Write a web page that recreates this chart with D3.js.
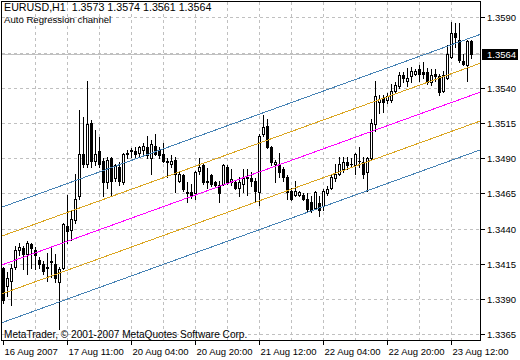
<!DOCTYPE html>
<html><head><meta charset="utf-8">
<script src="https://cdn.jsdelivr.net/npm/d3@7"></script>
<style>html,body{margin:0;padding:0;background:#fff;}svg{display:block;}</style>
</head><body><svg id="c" width="520" height="360"></svg>
<script>
const symbol = "EURUSD,H1";
const indicatorName = "Auto Regression channel";
const copyright = "MetaTrader, \u00A9 2001-2007 MetaQuotes Software Corp.";

const open = [1.3412,1.3399,1.3403,1.3413,1.3425,1.3426,1.3422,1.3429,1.3425,1.3418,
1.3415,1.3412,1.3416,1.3415,1.3402,1.3412,1.3442,1.3439,1.3446,1.3463,
1.3493,1.3486,1.3515,1.3488,1.3495,1.3488,1.3473,1.3490,1.3476,1.3484,
1.3473,1.3493,1.3495,1.3495,1.3494,1.3496,1.3498,1.3490,1.3499,1.3496,
1.3493,1.3488,1.3486,1.3489,1.3474,1.3478,1.3466,1.3466,1.3465,1.3481,
1.3485,1.3474,1.3478,1.3473,1.3471,1.3472,1.3484,1.3473,1.3473,1.3469,
1.3472,1.3476,1.3476,1.3474,1.3466,1.3507,1.3513,1.3498,1.3486,1.3486,
1.3482,1.3477,1.3467,1.3464,1.3464,1.3464,1.3461,1.3459,1.3455,1.3458,
1.3456,1.3465,1.3469,1.3476,1.3479,1.3482,1.3487,1.3486,1.3485,1.3488,
1.3487,1.3480,1.3490,1.3514,1.3530,1.3533,1.3531,1.3531,1.3538,1.3541,
1.3549,1.3545,1.3548,1.3550,1.3553,1.3551,1.3551,1.3544,1.3550,1.3548,
1.3538,1.3547,1.3562,1.3579,1.3574,1.3559,1.3556,1.3573];
const high = [1.3413,1.3409,1.3415,1.3428,1.3430,1.3428,1.3431,1.3430,1.3427,1.3420,
1.3417,1.3423,1.3428,1.3422,1.3413,1.3444,1.3464,1.3453,1.3479,1.3524,
1.3519,1.3545,1.3517,1.3510,1.3505,1.3490,1.3491,1.3491,1.3486,1.3487,
1.3494,1.3496,1.3497,1.3498,1.3499,1.3501,1.3506,1.3503,1.3507,1.3498,
1.3501,1.3490,1.3492,1.3491,1.3480,1.3479,1.3473,1.3472,1.3481,1.3490,
1.3486,1.3483,1.3479,1.3474,1.3474,1.3486,1.3485,1.3482,1.3474,1.3477,
1.3482,1.3482,1.3480,1.3476,1.3507,1.3521,1.3518,1.3499,1.3489,1.3494,
1.3484,1.3478,1.3469,1.3474,1.3467,1.3465,1.3465,1.3463,1.3467,1.3463,
1.3468,1.3470,1.3478,1.3486,1.3491,1.3491,1.3491,1.3490,1.3494,1.3498,
1.3491,1.3491,1.3518,1.3545,1.3535,1.3535,1.3536,1.3543,1.3544,1.3551,
1.3551,1.3554,1.3555,1.3553,1.3556,1.3558,1.3554,1.3553,1.3553,1.3550,
1.3552,1.3570,1.3587,1.3586,1.3586,1.3564,1.3574,1.3574];
const low = [1.3387,1.3392,1.3386,1.3411,1.3421,1.3411,1.3408,1.3412,1.3411,1.3412,
1.3408,1.3403,1.3406,1.3402,1.3369,1.3411,1.3430,1.3432,1.3444,1.3461,
1.3484,1.3484,1.3484,1.3485,1.3484,1.3463,1.3469,1.3464,1.3474,1.3471,
1.3472,1.3490,1.3491,1.3490,1.3491,1.3492,1.3490,1.3479,1.3492,1.3490,
1.3487,1.3477,1.3484,1.3466,1.3473,1.3467,1.3459,1.3462,1.3461,1.3479,
1.3472,1.3469,1.3470,1.3470,1.3459,1.3471,1.3472,1.3471,1.3468,1.3463,
1.3466,1.3464,1.3470,1.3459,1.3457,1.3506,1.3497,1.3485,1.3473,1.3477,
1.3474,1.3461,1.3460,1.3463,1.3463,1.3460,1.3452,1.3452,1.3454,1.3449,
1.3453,1.3464,1.3468,1.3474,1.3478,1.3480,1.3482,1.3484,1.3479,1.3484,
1.3476,1.3467,1.3489,1.3509,1.3522,1.3523,1.3529,1.3530,1.3536,1.3540,
1.3544,1.3541,1.3544,1.3549,1.3545,1.3547,1.3543,1.3542,1.3545,1.3535,
1.3537,1.3546,1.3561,1.3569,1.3558,1.3556,1.3545,1.3561];
const close = [1.3389,1.3405,1.3412,1.3425,1.3427,1.3422,1.3430,1.3426,1.3421,1.3415,
1.3410,1.3413,1.3417,1.3405,1.3411,1.3443,1.3438,1.3447,1.3461,1.3493,
1.3486,1.3514,1.3488,1.3493,1.3486,1.3473,1.3489,1.3474,1.3485,1.3474,
1.3493,1.3494,1.3496,1.3493,1.3498,1.3499,1.3492,1.3500,1.3493,1.3492,
1.3488,1.3487,1.3488,1.3479,1.3479,1.3468,1.3465,1.3463,1.3480,1.3484,
1.3473,1.3473,1.3472,1.3471,1.3465,1.3485,1.3473,1.3475,1.3469,1.3473,
1.3476,1.3477,1.3474,1.3467,1.3506,1.3512,1.3498,1.3487,1.3487,1.3480,
1.3477,1.3466,1.3461,1.3467,1.3466,1.3461,1.3454,1.3453,1.3466,1.3453,
1.3467,1.3468,1.3477,1.3479,1.3486,1.3487,1.3485,1.3486,1.3493,1.3488,
1.3479,1.3490,1.3515,1.3534,1.3532,1.3530,1.3534,1.3538,1.3542,1.3549,
1.3547,1.3547,1.3552,1.3552,1.3550,1.3550,1.3544,1.3549,1.3548,1.3537,
1.3549,1.3564,1.3579,1.3576,1.3560,1.3557,1.3573,1.3564];

const xTickBars = [0,16,32,48,64,80,96,112];
const xTickLabels = ["16 Aug 2007","17 Aug 11:00","20 Aug 04:00","20 Aug 20:00","21 Aug 12:00","22 Aug 04:00","22 Aug 20:00","23 Aug 12:00"];
const xGridBars = [8,16,24,32,40,48,56,64,72,80,88,96,104,112];
const yGridValues = [1.3365,1.3390,1.3415,1.3440,1.3465,1.3490,1.3515,1.3540,1.3565,1.3590];
const yLabelValues = [1.3365,1.3390,1.3415,1.3440,1.3465,1.3490,1.3515,1.3540,1.3590];
const channelCenter = [1.3415, 1.3535];   // regression value at first and last bar
const channelDevs = [0.0041, 0.00205, 0, -0.00205, -0.0041];
const channelColors = ["#4682b4","#daa520","#ff00ff","#daa520","#4682b4"];

const n = close.length;
const L = 1, T = 1, R = 480, B = 340;
const FONT = "'Liberation Sans', Arial, sans-serif";

const svg = d3.select("#c");
svg.append("rect").attr("width",520).attr("height",360).attr("fill","#fff");

const x = d3.scaleLinear().domain([0, n-1]).range([3, 3 + 4*(n-1)]);
const y = d3.scaleLinear().domain([1.3365, 1.3590]).range([334.3, 17.3]).interpolate(d3.interpolateRound);

svg.append("defs").append("clipPath").attr("id","plot")
  .append("rect").attr("x",L+1).attr("y",T+1).attr("width",R-L-1).attr("height",B-T-1);

// grid
const grid = svg.append("g").attr("stroke","#c0c0c0").attr("stroke-dasharray","3,3").attr("shape-rendering","crispEdges");
grid.selectAll("line.h").data(yGridValues).join("line").attr("class","h")
  .attr("x1",L+1).attr("x2",R).attr("y1",d=>y(d)+0.5).attr("y2",d=>y(d)+0.5);
grid.selectAll("line.v").data(xGridBars).join("line").attr("class","v")
  .attr("x1",d=>x(d)+0.5).attr("x2",d=>x(d)+0.5).attr("y1",T+1).attr("y2",B);

// bid line
const last = close[n-1];
svg.append("line").attr("x1",L+1).attr("x2",R).attr("y1",y(last)+0.5).attr("y2",y(last)+0.5)
  .attr("stroke","#c0c0c0").attr("shape-rendering","crispEdges");

// candles
const bars = d3.range(n).map(i=>({i,o:open[i],h:high[i],l:low[i],c:close[i]}));
const cg = svg.append("g").attr("clip-path","url(#plot)").attr("shape-rendering","crispEdges");
cg.selectAll("line.wick").data(bars).join("line").attr("class","wick")
  .attr("x1",d=>x(d.i)+0.5).attr("x2",d=>x(d.i)+0.5)
  .attr("y1",d=>y(d.h)).attr("y2",d=>y(d.l)+1).attr("stroke","#000");
const bodies = bars.filter(d=>y(Math.min(d.o,d.c)) - y(Math.max(d.o,d.c)) >= 1);
const dojis = bars.filter(d=>y(Math.min(d.o,d.c)) - y(Math.max(d.o,d.c)) < 1);
cg.selectAll("rect.body").data(bodies).join("rect").attr("class","body")
  .attr("x",d=>x(d.i)-0.5).attr("width",2)
  .attr("y",d=>y(Math.max(d.o,d.c))+0.5)
  .attr("height",d=>y(Math.min(d.o,d.c)) - y(Math.max(d.o,d.c)))
  .attr("fill",d=>d.c>d.o?"#fff":"#000").attr("stroke","#000");
cg.selectAll("line.doji").data(dojis).join("line").attr("class","doji")
  .attr("x1",d=>x(d.i)-1).attr("x2",d=>x(d.i)+2)
  .attr("y1",d=>y(d.c)+0.5).attr("y2",d=>y(d.c)+0.5).attr("stroke","#000");

// regression channel
const i0 = x.invert(L), i1 = x.invert(R);
const yl = d3.scaleLinear().domain([1.3365, 1.3590]).range([334.3, 17.3]);
const chanVal = (i, dev) => channelCenter[0] + (channelCenter[1]-channelCenter[0]) * i/(n-1) + dev;
const line = d3.line().x(d=>x(d[0])+0.5).y(d=>yl(d[1])+0.5);
svg.append("g").attr("clip-path","url(#plot)").attr("shape-rendering","crispEdges")
  .selectAll("path").data(channelDevs).join("path")
  .attr("d",(dev)=>line([[i0,chanVal(i0,dev)],[i1,chanVal(i1,dev)]]))
  .attr("fill","none").attr("stroke",(d,k)=>channelColors[k]).attr("stroke-width",1);

// frame
svg.append("rect").attr("x",L+0.5).attr("y",T+0.5).attr("width",R-L).attr("height",B-T)
  .attr("fill","none").attr("stroke","#000").attr("shape-rendering","crispEdges");

// right axis
const ya = svg.append("g").attr("transform",`translate(${R+1},0)`)
  .call(d3.axisRight(y).tickValues(yLabelValues).tickSize(4).tickPadding(2).tickFormat(d3.format(".4f")));
ya.select(".domain").remove();
ya.attr("font-family",FONT).attr("font-size",9.5);
ya.selectAll("line").attr("shape-rendering","crispEdges");
ya.selectAll("text").attr("fill","#000");

// bottom axis
const xa = svg.append("g").attr("transform",`translate(0,${B+1})`)
  .call(d3.axisBottom(x).tickValues(xTickBars).tickSize(4).tickPadding(3).tickFormat((d,k)=>xTickLabels[k]));
xa.select(".domain").remove();
xa.attr("font-family",FONT).attr("font-size",9.5);
xa.selectAll("line").attr("shape-rendering","crispEdges");
xa.selectAll("text").attr("text-anchor","start").attr("x",1).attr("fill","#000");

// current price label
const yp = y(last);
svg.append("rect").attr("x",R+2).attr("y",yp-5).attr("width",36).attr("height",11).attr("fill","#000");
svg.append("text").attr("x",R+7).attr("y",yp+4).attr("fill","#fff")
  .attr("font-family",FONT).attr("font-size",9.5).text(d3.format(".4f")(last));

// header texts
svg.append("text").attr("x",4).attr("y",10.5).attr("font-family",FONT).attr("font-size",10.7)
  .style("white-space","pre")
  .text(`${symbol}  ${[open[n-1],high[n-1],low[n-1],close[n-1]].map(d3.format(".4f")).join(" ")}`);
svg.append("text").attr("x",4).attr("y",22.5).attr("font-family",FONT).attr("font-size",9.6)
  .text(indicatorName);
svg.append("text").attr("x",4).attr("y",338).attr("font-family",FONT).attr("font-size",10.1)
  .text(copyright);
</script></body></html>
